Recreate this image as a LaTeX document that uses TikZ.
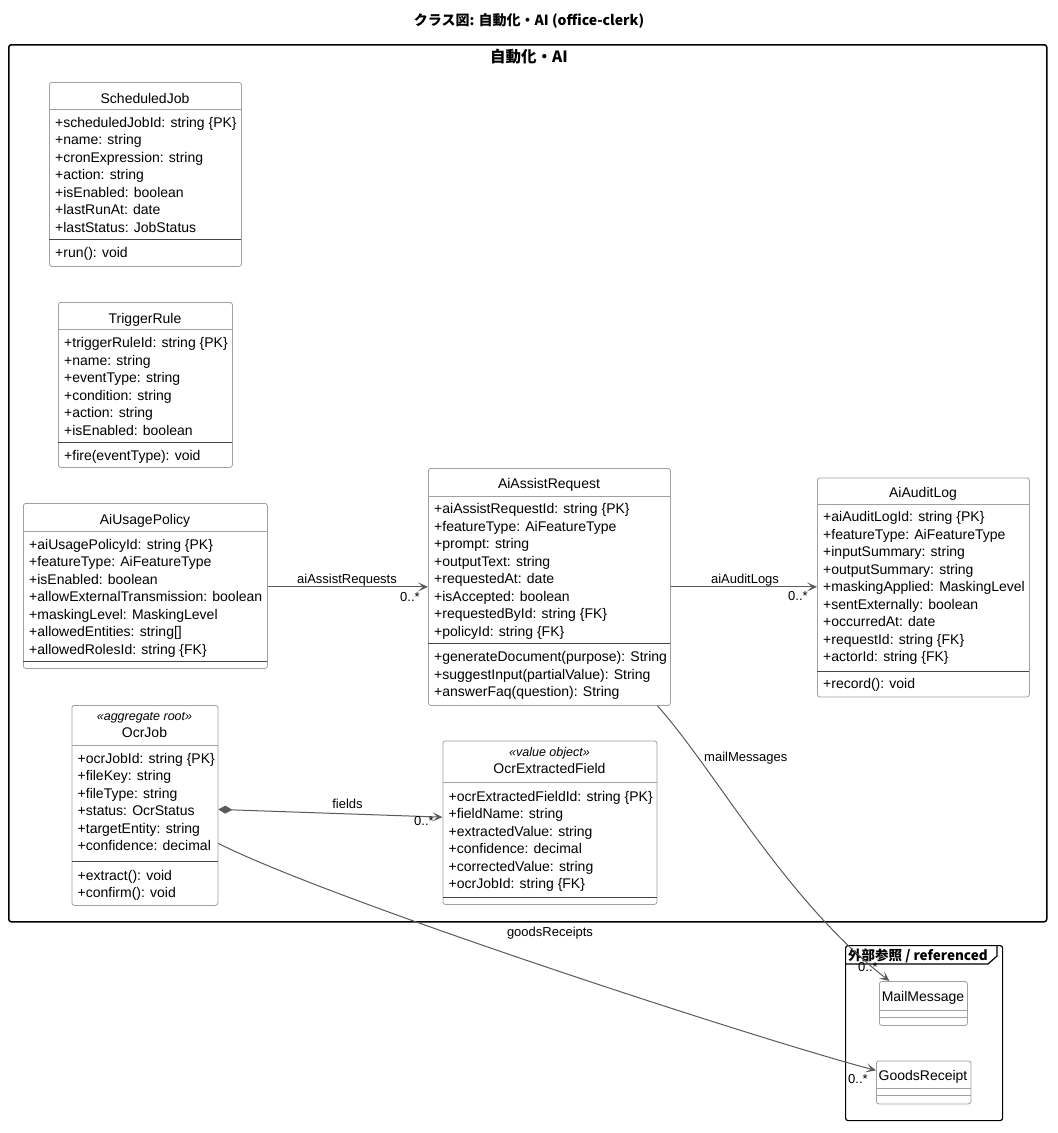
\documentclass[tikz,border=0pt]{standalone}
\usepackage{fontspec}
\setmainfont{Liberation Sans}
\newfontfamily\cjk{Noto Sans CJK JP}
\usetikzlibrary{arrows.meta,calc}
\definecolor{boxgray}{HTML}{A0A0A0}
\definecolor{sepdark}{HTML}{454545}
\definecolor{linegray}{HTML}{5A5A5A}
\newcommand\attrlines[4]{%
  \foreach \txt [count=\i] in {#4} {%
    \node[attr] (#1-\i) at (#2,{#3+(\i-1)*17.5}) {\txt};}}
\begin{document}
\begin{tikzpicture}[x=1pt,y=-1pt,
  cls/.style={draw=boxgray, fill=white, rounded corners=2.5pt, line width=0.8pt, anchor=north west, inner sep=0pt},
  cname/.style={font=\fontsize{14}{16}\selectfont, anchor=base, inner sep=0pt},
  attr/.style={font=\fontsize{14}{16}\selectfont, anchor=base west, inner sep=0pt},
  stereo/.style={font=\fontsize{12.5}{14}\selectfont\itshape, anchor=base, inner sep=0pt},
  hsep/.style={draw=boxgray, line width=0.8pt},
  msep/.style={draw=sepdark, line width=0.8pt},
  assoc/.style={draw=linegray, line width=1pt, -{Stealth[length=10pt,width=9pt,inset=5pt]}},
  lbl/.style={font=\fontsize{13}{15}\selectfont, inner sep=0pt, anchor=base},
  mult/.style={font=\fontsize{13}{15}\selectfont, inner sep=0pt, anchor=base west},
  hdr/.style={font=\cjk\bfseries\fontsize{14}{16}\selectfont, inner sep=0pt},
]
\useasboundingbox[fill=white] (0,0) rectangle (1058,1133);

% title
\node[hdr, anchor=base] (title) at (529,25) {クラス図: 自動化・AI (office-clerk)};

% package frame
\node[draw=black, line width=1.5pt, rounded corners=2.5pt, minimum width=1038pt, minimum height=877pt, anchor=north west, inner sep=0pt] (pkg) at (8,44) {};
\node[hdr, font=\cjk\bfseries\fontsize{15.5}{17}\selectfont, anchor=base] (pkglabel) at (529,62) {自動化・AI};

% external frame
\node[draw=black, line width=1.2pt, rounded corners=2.5pt, minimum width=157pt, minimum height=175pt, anchor=north west, inner sep=0pt] (ext) at (845,945) {};
\draw[line width=1.2pt] (ext.north west |- 0,964) -- (988,964) -- (997,956) -- (997,945);
\node[hdr, font=\cjk\bfseries\fontsize{13.5}{15}\selectfont, anchor=base west] (extlabel) at (848,960.5) {外部参照 / referenced};

% ScheduledJob
\node[cls, minimum width=192pt, minimum height=184pt] (sj) at (49,82) {};
\node[cname] (sj-n) at (145,103) {ScheduledJob};
\draw[hsep] (49,109) -- (241,109);
\attrlines{sj-a}{55}{127}{{+scheduledJobId: string \{PK\}},{+name: string},{+cronExpression: string},{+action: string},{+isEnabled: boolean},{+lastRunAt: date},{+lastStatus: JobStatus}}
\draw[msep] (49,239.5) -- (241,239.5);
\attrlines{sj-m}{55}{257.5}{{+run(): void}}

% TriggerRule
\node[cls, minimum width=174pt, minimum height=165pt] (tr) at (58,302) {};
\node[cname] (tr-n) at (145,323) {TriggerRule};
\draw[hsep] (58,329.5) -- (232,329.5);
\attrlines{tr-a}{64}{347.5}{{+triggerRuleId: string \{PK\}},{+name: string},{+eventType: string},{+condition: string},{+action: string},{+isEnabled: boolean}}
\draw[msep] (58,442) -- (232,442);
\attrlines{tr-m}{64}{460}{{+fire(eventType): void}}

% AiUsagePolicy
\node[cls, minimum width=244pt, minimum height=165pt] (aup) at (23,503) {};
\node[cname] (aup-n) at (145,524) {AiUsagePolicy};
\draw[hsep] (23,531) -- (267,531);
\attrlines{aup-a}{29}{549}{{+aiUsagePolicyId: string \{PK\}},{+featureType: AiFeatureType},{+isEnabled: boolean},{+allowExternalTransmission: boolean},{+maskingLevel: MaskingLevel},{+allowedEntities: string[]},{+allowedRolesId: string \{FK\}}}
\draw[msep] (23,661) -- (267,661);

% AiAssistRequest
\node[cls, minimum width=242pt, minimum height=237pt] (ar) at (428,468) {};
\node[cname] (ar-n) at (549,488) {AiAssistRequest};
\draw[hsep] (428,496) -- (670,496);
\attrlines{ar-a}{434}{513.5}{{+aiAssistRequestId: string \{PK\}},{+featureType: AiFeatureType},{+prompt: string},{+outputText: string},{+requestedAt: date},{+isAccepted: boolean},{+requestedById: string \{FK\}},{+policyId: string \{FK\}}}
\draw[msep] (428,643.5) -- (670,643.5);
\attrlines{ar-m}{434}{661.5}{{+generateDocument(purpose): String},{+suggestInput(partialValue): String},{+answerFaq(question): String}}

% AiAuditLog
\node[cls, minimum width=212pt, minimum height=219pt] (al) at (817,477.5) {};
\node[cname] (al-n) at (923,497) {AiAuditLog};
\draw[hsep] (817,504) -- (1029,504);
\attrlines{al-a}{823}{521.5}{{+aiAuditLogId: string \{PK\}},{+featureType: AiFeatureType},{+inputSummary: string},{+outputSummary: string},{+maskingApplied: MaskingLevel},{+sentExternally: boolean},{+occurredAt: date},{+requestId: string \{FK\}},{+actorId: string \{FK\}}}
\draw[msep] (817,671) -- (1029,671);
\attrlines{al-m}{823}{688.5}{{+record(): void}}

% OcrJob
\node[cls, minimum width=146pt, minimum height=200pt] (oj) at (71.5,705) {};
\node[stereo] (oj-s) at (144.5,720) {«aggregate root»};
\node[cname] (oj-n) at (144.5,737) {OcrJob};
\draw[hsep] (71.5,745) -- (217.5,745);
\attrlines{oj-a}{77.5}{763.3}{{+ocrJobId: string \{PK\}},{+fileKey: string},{+fileType: string},{+status: OcrStatus},{+targetEntity: string},{+confidence: decimal}}
\draw[msep] (71.5,861) -- (217.5,861);
\attrlines{oj-m}{77.5}{880}{{+extract(): void},{+confirm(): void}}

% OcrExtractedField
\node[cls, minimum width=214pt, minimum height=163.5pt] (oef) at (442.5,740.5) {};
\node[stereo] (oef-s) at (549.5,756.3) {«value object»};
\node[cname] (oef-n) at (549.5,773.7) {OcrExtractedField};
\draw[hsep] (442.5,782.3) -- (656.5,782.3);
\attrlines{oef-a}{448.5}{801}{{+ocrExtractedFieldId: string \{PK\}},{+fieldName: string},{+extractedValue: string},{+confidence: decimal},{+correctedValue: string},{+ocrJobId: string \{FK\}}}
\draw[msep] (442.5,897) -- (656.5,897);

% MailMessage
\node[cls, minimum width=88pt, minimum height=44pt] (mm) at (879,981) {};
\node[cname] (mm-n) at (923,1001) {MailMessage};
\draw[hsep] (879,1010) -- (967,1010);
\draw[hsep] (879,1017.5) -- (967,1017.5);

% GoodsReceipt
\node[cls, minimum width=94.5pt, minimum height=43pt] (gr) at (876,1060.5) {};
\node[cname] (gr-n) at (923,1080) {GoodsReceipt};
\draw[hsep] (876,1088.5) -- (970.5,1088.5);
\draw[hsep] (876,1095.5) -- (970.5,1095.5);

% connectors
\draw[assoc] (aup.east |- ar.west) -- (ar.west);
\node[lbl] (l-aar) at (347,583) {aiAssistRequests};
\node[mult] (m-aar) at (400,601) {0..*};

\draw[assoc] (ar.east) -- (ar.east -| al.west);
\node[lbl] (l-aal) at (745,583) {aiAuditLogs};
\node[mult] (m-aal) at (788,600) {0..*};

\draw[draw=linegray, line width=1pt, {Diamond[length=14pt,width=8pt]}-{Stealth[length=10pt,width=9pt,inset=5pt]}] ($(oj.east)+(0,4)$) -- ($(oef.west)+(0,-5.5)$);
\node[lbl] (l-f) at (347.5,808) {fields};
\node[mult] (m-f) at (414,825) {0..*};

\draw[assoc] ($(ar.south)+(108,0)$) .. controls (715,770) and (785,900) .. ($(mm.north)+(-34,0)$);
\node[mult] (l-mm) at (704,761) {mailMessages};
\node[mult] (m-mm) at (858,971) {0..*};

\draw[assoc] ($(oj.east)+(0,38)$) .. controls (330,900) and (760,1040) .. ($(gr.west)+(0,-12)$);
\node[lbl] (l-gr) at (550,936) {goodsReceipts};
\node[mult] (m-gr) at (848,1083) {0..*};
\end{tikzpicture}
\end{document}
